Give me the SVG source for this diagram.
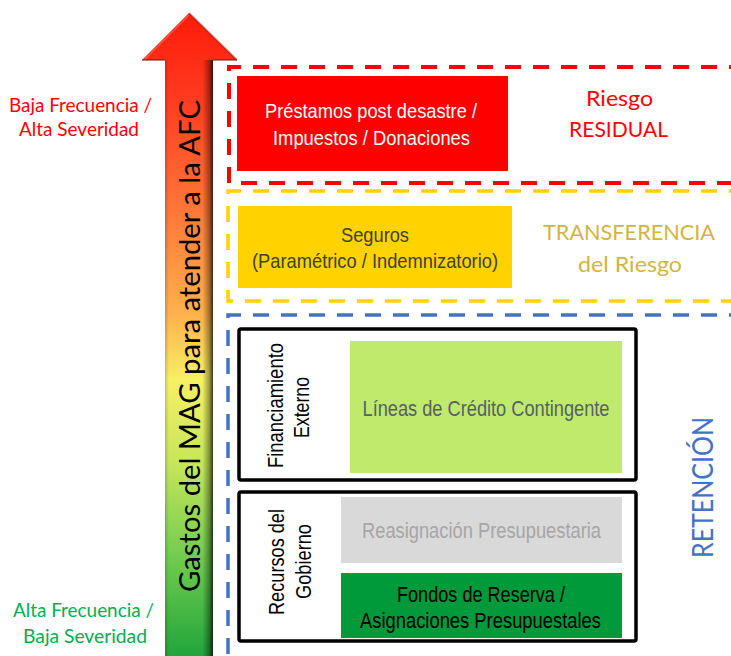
<svg xmlns="http://www.w3.org/2000/svg" width="731" height="656" viewBox="0 0 731 656">
  <style>
    .narrow { font-family: "Liberation Sans Narrow", "Liberation Sans", Arial, sans-serif; text-anchor: middle; }
    .soft { font-family: Lato, "Open Sans", "Liberation Sans", sans-serif; text-anchor: middle; }
    .frame { fill: none; stroke: #000; stroke-width: 3.5; }
    .dash { fill: none; stroke-dasharray: 16 12; }
  </style>
  <defs>
    <linearGradient id="arrowFill" gradientUnits="userSpaceOnUse" x1="0" y1="13" x2="0" y2="656">
      <stop offset="0" stop-color="#FF1A0A"/>
      <stop offset="0.14" stop-color="#FF3D20"/>
      <stop offset="0.33" stop-color="#FF7F3A"/>
      <stop offset="0.47" stop-color="#FFB24C"/>
      <stop offset="0.57" stop-color="#F7F062"/>
      <stop offset="0.70" stop-color="#C6E65A"/>
      <stop offset="0.85" stop-color="#6FCB4E"/>
      <stop offset="1" stop-color="#21A53C"/>
    </linearGradient>
    <linearGradient id="shaftShade" x1="0" y1="0" x2="1" y2="0">
      <stop offset="0" stop-color="#000" stop-opacity="0.18"/>
      <stop offset="0.08" stop-color="#000" stop-opacity="0"/>
      <stop offset="0.78" stop-color="#000" stop-opacity="0"/>
      <stop offset="0.92" stop-color="#000" stop-opacity="0.35"/>
      <stop offset="1" stop-color="#000" stop-opacity="0.75"/>
    </linearGradient>
  </defs>

  <!-- vertical expense arrow -->
  <g id="arrow">
    <path d="M189,13 L237,60 L213,60 L213,656 L165,656 L165,60 L142,60 Z" fill="url(#arrowFill)"/>
    <rect x="165" y="60" width="48" height="596" fill="url(#shaftShade)"/>
    <path d="M189,13 L237,60" stroke="#8A1000" stroke-opacity="0.45" stroke-width="2" fill="none"/>
    <path d="M142,60 L165,60 M213,60 L237,60" stroke="#7A1000" stroke-opacity="0.5" stroke-width="2" fill="none"/>
    <path d="M189,15 L145,59" stroke="#FF8A7A" stroke-opacity="0.5" stroke-width="1.5" fill="none"/>
    <text class="soft" font-size="29" fill="#000" textLength="492" lengthAdjust="spacingAndGlyphs" transform="translate(200,346) rotate(-90)">Gastos del MAG para atender a la AFC</text>
  </g>

  <!-- scale labels -->
  <g id="label-top">
    <text class="soft" font-size="19" fill="#FF0000" x="80.5" y="112" textLength="143" lengthAdjust="spacingAndGlyphs">Baja Frecuencia /</text>
    <text class="soft" font-size="19" fill="#FF0000" x="79" y="136" textLength="120" lengthAdjust="spacingAndGlyphs">Alta Severidad</text>
  </g>
  <g id="label-bottom">
    <text class="soft" font-size="19" fill="#00B050" x="83.5" y="617" textLength="141" lengthAdjust="spacingAndGlyphs">Alta Frecuencia /</text>
    <text class="soft" font-size="19" fill="#00B050" x="85" y="643" textLength="124" lengthAdjust="spacingAndGlyphs">Baja Severidad</text>
  </g>

  <!-- layer outlines -->
  <g id="connectors">
    <path class="dash" d="M745,67 L229,67 L229,183 L745,183" stroke="#FF0000" stroke-width="4"/>
    <path class="dash" d="M745,191 L228,191 L228,301 L745,301" stroke="#FFD200" stroke-width="3.5"/>
    <path class="dash" d="M745,315 L228,315 L228,670" stroke="#4472C4" stroke-width="3.5"/>
  </g>

  <!-- residual risk -->
  <g id="residual">
    <rect x="237" y="76" width="271" height="95" fill="#FF0000"/>
    <text class="narrow" font-size="21" fill="#FFFFFF" x="371" y="118" textLength="212" lengthAdjust="spacingAndGlyphs">Préstamos post desastre /</text>
    <text class="narrow" font-size="21" fill="#FFFFFF" x="371.5" y="145" textLength="197" lengthAdjust="spacingAndGlyphs">Impuestos / Donaciones</text>
    <text class="soft" font-size="21" fill="#FF0000" x="619.5" y="106" textLength="67" lengthAdjust="spacingAndGlyphs">Riesgo</text>
    <text class="soft" font-size="21" fill="#FF0000" x="618.5" y="137" textLength="99" lengthAdjust="spacingAndGlyphs">RESIDUAL</text>
  </g>

  <!-- risk transfer -->
  <g id="transfer">
    <rect x="238" y="206" width="274" height="82" fill="#FFD200"/>
    <text class="narrow" font-size="21" fill="#404040" x="375" y="242" textLength="68" lengthAdjust="spacingAndGlyphs">Seguros</text>
    <text class="narrow" font-size="21" fill="#404040" x="375" y="268" textLength="246" lengthAdjust="spacingAndGlyphs">(Paramétrico / Indemnizatorio)</text>
    <text class="soft" font-size="21" fill="#D4B440" x="629" y="240" textLength="172" lengthAdjust="spacingAndGlyphs">TRANSFERENCIA</text>
    <text class="soft" font-size="21" fill="#D4B440" x="630" y="272" textLength="104" lengthAdjust="spacingAndGlyphs">del Riesgo</text>
  </g>

  <!-- retention: external financing -->
  <g id="external-financing">
    <rect class="frame" x="239" y="329" width="397" height="151" rx="2"/>
    <rect x="350" y="341" width="272" height="132" fill="#BFEA6B"/>
    <text class="narrow" font-size="22" fill="#56606B" x="486" y="416" textLength="247" lengthAdjust="spacingAndGlyphs">Líneas de Crédito Contingente</text>
    <text class="narrow" font-size="22" fill="#000" textLength="125" lengthAdjust="spacingAndGlyphs" transform="translate(283,405.5) rotate(-90)">Financiamiento</text>
    <text class="narrow" font-size="22" fill="#000" textLength="61" lengthAdjust="spacingAndGlyphs" transform="translate(309,407.5) rotate(-90)">Externo</text>
  </g>

  <!-- retention: government resources -->
  <g id="government-resources">
    <rect class="frame" x="239" y="492" width="397" height="149" rx="2"/>
    <rect x="341" y="497" width="281" height="66" fill="#D9D9D9"/>
    <text class="narrow" font-size="22" fill="#A6A6A6" x="481.5" y="538" textLength="239" lengthAdjust="spacingAndGlyphs">Reasignación Presupuestaria</text>
    <rect x="341" y="573" width="281" height="65" fill="#009A3A"/>
    <text class="narrow" font-size="22" fill="#000" x="481" y="602" textLength="168" lengthAdjust="spacingAndGlyphs">Fondos de Reserva /</text>
    <text class="narrow" font-size="22" fill="#000" x="480.5" y="628" textLength="241" lengthAdjust="spacingAndGlyphs">Asignaciones Presupuestales</text>
    <text class="narrow" font-size="22" fill="#000" textLength="106" lengthAdjust="spacingAndGlyphs" transform="translate(284,562) rotate(-90)">Recursos del</text>
    <text class="narrow" font-size="22" fill="#000" textLength="75" lengthAdjust="spacingAndGlyphs" transform="translate(311,561.5) rotate(-90)">Gobierno</text>
  </g>

  <g id="retention-label">
    <text class="soft" font-size="28" fill="#4472C4" textLength="141" lengthAdjust="spacingAndGlyphs" transform="translate(713,487.5) rotate(-90)">RETENCIÓN</text>
  </g>
</svg>
